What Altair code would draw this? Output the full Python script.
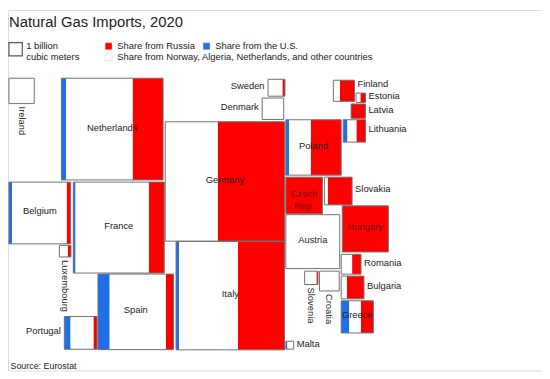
import altair as alt
import numpy as np
import pandas as pd

FONT = "Liberation Sans"

# ---- data ----
countries = ["Ireland", "Netherlands", "Belgium", "Luxembourg", "France", "Spain", "Portugal",
             "Germany", "Sweden", "Denmark", "Italy", "Poland", "Finland", "Estonia", "Latvia",
             "Lithuania", "Czech Rep.", "Slovakia", "Hungary", "Austria", "Romania", "Bulgaria",
             "Greece", "Slovenia", "Croatia", "Malta"]
imports_bcm = [3.6, 58.0, 21.4, 0.75, 46.4, 32.0, 6.0,
               80.0, 1.6, 2.6, 66.0, 17.2, 2.5, 0.5, 1.15,
               2.8, 7.5, 4.3, 11.9, 16.3, 2.2, 2.9,
               5.8, 1.0, 2.2, 0.35]
share_russia = [0.0, 0.30, 0.065, 0.28, 0.17, 0.10, 0.11,
                0.56, 0.15, 0.0, 0.43, 0.55, 0.69, 0.54, 1.0,
                0.41, 1.0, 0.88, 1.0, 0.0, 0.45, 0.75,
                0.39, 0.12, 0.0, 0.0]
share_us = [0.0, 0.045, 0.05, 0.0, 0.025, 0.155, 0.19,
            0.0, 0.0, 0.0, 0.027, 0.06, 0.0, 0.0, 0.0,
            0.19, 0.0, 0.0, 0.0, 0.0, 0.0, 0.0,
            0.25, 0.0, 0.0, 0.2]
# cartogram layout (top-left corner, in units of the 1-bcm key square)
map_left = [0.07, 4.0, 0.07, 3.85, 4.89, 6.74, 4.22,
            11.78, 19.48, 19.04, 12.59, 20.81, 24.37, 26.07, 25.70,
            25.11, 20.81, 23.70, 25.04, 20.81, 24.96, 24.96,
            24.96, 22.22, 23.33, 20.81]
map_top = [5.11, 5.11, 12.89, 17.63, 12.89, 19.78, 22.96,
           8.37, 5.19, 6.59, 17.33, 8.22, 5.26, 6.22, 7.04,
           8.22, 12.52, 12.52, 14.67, 15.33, 18.30, 19.93,
           21.78, 19.56, 19.56, 24.81]
label_place = ["b", "c", "c", "b", "c", "c", "l",
               "c", "l", "l", "c", "c", "r", "r", "r",
               "r", "c", "r", "c", "c", "r", "r",
               "c", "b", "b", "r"]
label_nudge = [0, 0, 0, 0, 0, 0, 0,
               0, 0, 0, 0, 0, -0.37, 0, 0,
               0, 0, 0, 0, 0, 0, 0,
               0, 0, 0, 0]

cat_ru = "Share from Russia"
cat_us = "Share from the U.S."
cat_ot = "Share from Norway, Algeria, Netherlands, and other countries"

# ---- tables ----
seg_rows, box_rows, lab_rows = [], [], []
px = 1 / 13.5
for c, v, ru, us, L, T, pl, nd in zip(countries, imports_bcm, share_russia, share_us,
                                      map_left, map_top, label_place, label_nudge):
    s = float(np.sqrt(v))
    a = L + s * us
    b = L + s * (1 - ru)
    for cat, x0, x1 in [(cat_us, L, a), (cat_ot, a, b), (cat_ru, b, L + s)]:
        if x1 - x0 > 1e-6:
            seg_rows.append(dict(country=c, source=cat, x0=x0, x1=x1, y0=T, y1=T + s))
    box_rows.append(dict(country=c, x0=L, x1=L + s, y0=T, y1=T + s))
    cy = T + s / 2 - 1.5 * px + nd
    if pl == "c":
        lx, ly = L + s / 2, cy
    elif pl == "l":
        lx, ly = L - 3.5 * px, cy
    elif pl == "r":
        lx, ly = L + s + 3 * px, cy
    else:
        lx, ly = L + s / 2, T + s + 3 * px
    text = "Czech\nRep." if c == "Czech Rep." else c
    on_red = 1 if (pl == "c" and ru >= 0.99) else 0
    lab_rows.append(dict(country=c, text=text, lx=lx, ly=ly, place=pl, on_red=on_red))

segs = pd.DataFrame(seg_rows)
boxes = pd.DataFrame(box_rows)
labs = pd.DataFrame(lab_rows)
key = pd.DataFrame([dict(x0=0.07, x1=0.07 + 1.0, y0=2.44, y1=2.44 + 1.0,
                         text="1 billion\ncubic meters")])

xscale = alt.Scale(domain=[0, 40], nice=False, zero=False)
yscale = alt.Scale(domain=[0, 27], nice=False, zero=False, reverse=True)
xaxis = alt.Axis(title="Source: Eurostat", labels=False, ticks=False, domain=False, grid=False,
                 titleAnchor="start", titleAlign="left", titleX=2, titleY=-1.5,
                 titleBaseline="alphabetic", titleFontSize=9, titleFontWeight="normal",
                 titleColor="#222222", titleFont=FONT)


def X(f):
    return alt.X(f, type="quantitative", scale=xscale, axis=xaxis)


def Y(f):
    return alt.Y(f, type="quantitative", scale=yscale, axis=None)


legend_common = dict(title=None, orient="none", direction="horizontal", symbolType="square",
                     symbolSize=49, symbolStrokeColor="#cccccc", symbolStrokeWidth=0.5,
                     labelFontSize=9.5, labelFont=FONT, labelColor="#222222",
                     columnPadding=6, labelLimit=500, padding=0, labelOffset=4)

segs_main = alt.Chart(segs).transform_filter(f"datum.source != '{cat_ot}'").mark_rect(
    strokeWidth=0).encode(
    x=X("x0"), x2="x1", y=Y("y0"), y2="y1",
    color=alt.Color("source:N",
                    scale=alt.Scale(domain=[cat_ru, cat_us], range=["#ff0000", "#1f6feb"]),
                    legend=alt.Legend(legendX=97, legendY=31.5, **legend_common)),
)

segs_other = alt.Chart(segs).transform_filter(f"datum.source == '{cat_ot}'").mark_rect(
    strokeWidth=0).encode(
    x=X("x0"), x2="x1", y=Y("y0"), y2="y1",
    fill=alt.Fill("source:N",
                  scale=alt.Scale(domain=[cat_ot], range=["#ffffff"]),
                  legend=alt.Legend(legendX=97, legendY=43, **legend_common)),
)

box_layer = alt.Chart(boxes).mark_rect(fill=None, stroke="#707070", strokeWidth=1).encode(
    x=X("x0"), x2="x1", y=Y("y0"), y2="y1")

key_box = alt.Chart(key).mark_rect(fill="#ffffff", stroke="#555555", strokeWidth=1.2).encode(
    x=X("x0"), x2="x1", y=Y("y0"), y2="y1")
key_text = alt.Chart(key).mark_text(align="left", baseline="top", fontSize=9.5, font=FONT,
                                    color="#222222", lineBreak="\n", lineHeight=11,
                                    dx=4, dy=-1.5).encode(
    x=X("x1"), y=Y("y0"), text="text:N")

lab_color = alt.condition("datum.on_red == 1", alt.value("#6a0c0c"), alt.value("#222222"))


def lab_layer(place, **kw):
    return alt.Chart(labs).transform_filter(f"datum.place == '{place}'").mark_text(
        fontSize=9.5, font=FONT, lineBreak="\n", lineHeight=12, **kw).encode(
        x=X("lx"), y=Y("ly"), text="text:N", color=lab_color)


labels = [
    lab_layer("c", align="center", baseline="middle"),
    lab_layer("l", align="right", baseline="middle"),
    lab_layer("r", align="left", baseline="middle"),
    lab_layer("b", align="left", baseline="middle", angle=90),
]

chart = alt.layer(segs_main, segs_other, box_layer, key_box, key_text, *labels).properties(
    width=540, height=364.5,
    autosize=alt.AutoSizeParams(type="none"),
    padding=0,
    title=alt.Title("Natural Gas Imports, 2020", anchor="start", fontSize=15,
                    fontWeight="normal", color="#222222", font=FONT, dx=1, dy=20, offset=0),
).resolve_scale(color="independent").configure_view(stroke=None).configure(background="#ffffff")

chart.save("out.html", embed_options={"renderer": "svg", "actions": False})
